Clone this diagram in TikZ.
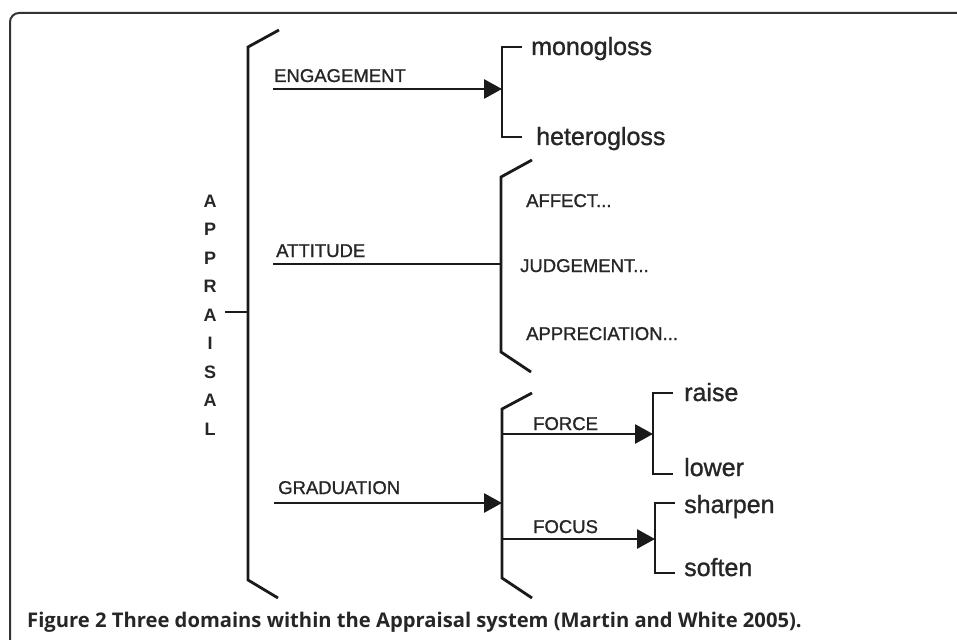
\documentclass[tikz,border=0pt]{standalone}
\usepackage{fontspec}
\setmainfont{Liberation Sans}
\newfontfamily\labfont[FakeBold=1.1]{Liberation Sans}
\newfontfamily\capfont{Open Sans}
\usetikzlibrary{arrows.meta}
\definecolor{ink}{HTML}{1A1A1A}
\definecolor{txt}{HTML}{262626}
\begin{document}
\begin{tikzpicture}[x=1pt,y=-1pt,
  ln/.style={line width=2.8pt,draw=ink,line join=miter},
  arr/.style={ln,-{Triangle[length=18pt,width=19pt]}},
  upl/.style={font=\labfont\fontsize{18.5}{20}\selectfont,text=txt,inner sep=0pt,anchor=base west},
  lowl/.style={font=\labfont\fontsize{25}{28}\selectfont,text=txt,inner sep=0pt,anchor=base west},
]
\useasboundingbox (0,0) rectangle (957,639);
\fill[white] (0,0) rectangle (957,639);
% frame
\draw[line width=2pt,draw=black!80,rounded corners=9pt] (10,641) -- (10,13) -- (959,13);
% main bracket
\coordinate (m0) at (279,30);
\coordinate (m1) at (248,47);
\coordinate (m2) at (248,580);
\coordinate (m3) at (278,598);
\draw[ln] (m0) -- (m1) -- (m2) -- (m3);
% APPRAISAL
\node[font=\bfseries\fontsize{18}{28.5}\selectfont,text=txt,align=center,inner sep=0pt] (appr) at (210,315) {A\\P\\P\\R\\A\\I\\S\\A\\L};
\coordinate (tk0) at (225,312);
\coordinate (tk1) at (248,312);
\draw[line width=1.4pt,draw=ink] (tk0) -- (tk1);
% ENGAGEMENT
\coordinate (e0) at (273,89);
\coordinate (e1) at (502,89);
\draw[arr] (e0) -- (e1);
\node[upl] (eng) at (274,82) {ENGAGEMENT};
\coordinate (eb0) at (522,47);
\coordinate (eb1) at (502,47);
\coordinate (eb2) at (502,137);
\coordinate (eb3) at (522,137);
\draw[ln] (eb0) -- (eb1) -- (eb2) -- (eb3);
\node[lowl] (mono) at (531,55) {monogloss};
\node[lowl] (hetero) at (536,145) {heterogloss};
% ATTITUDE
\coordinate (a0) at (273,264);
\coordinate (a1) at (501,264);
\draw[ln] (a0) -- (a1);
\node[upl] (att) at (276,257) {ATTITUDE};
\coordinate (ab0) at (532,160);
\coordinate (ab1) at (501,177);
\coordinate (ab2) at (501,352);
\coordinate (ab3) at (531,372);
\draw[ln] (ab0) -- (ab1) -- (ab2) -- (ab3);
\node[upl] (aff) at (526,207) {AFFECT...};
\node[upl] (jud) at (520,272) {JUDGEMENT...};
\node[upl] (app) at (526,340) {APPRECIATION...};
% GRADUATION
\coordinate (g0) at (274,503);
\coordinate (g1) at (502,503);
\draw[arr] (g0) -- (g1);
\node[upl] (grad) at (278,494) {GRADUATION};
\coordinate (gb0) at (532,393);
\coordinate (gb1) at (502,409);
\coordinate (gb2) at (502,578);
\coordinate (gb3) at (532,598);
\draw[ln] (gb0) -- (gb1) -- (gb2) -- (gb3);
% FORCE
\coordinate (f0) at (502,434);
\coordinate (f1) at (653,434);
\draw[arr] (f0) -- (f1);
\node[upl] (force) at (533,430) {FORCE};
\coordinate (fb0) at (673,393);
\coordinate (fb1) at (653,393);
\coordinate (fb2) at (653,474);
\coordinate (fb3) at (673,474);
\draw[ln] (fb0) -- (fb1) -- (fb2) -- (fb3);
\node[lowl] (raise) at (684,401) {raise};
\node[lowl] (lower) at (684,476) {lower};
% FOCUS
\coordinate (c0) at (502,539);
\coordinate (c1) at (655,539);
\draw[arr] (c0) -- (c1);
\node[upl] (focus) at (533,533) {FOCUS};
\coordinate (cb0) at (675,503);
\coordinate (cb1) at (655,503);
\coordinate (cb2) at (655,573);
\coordinate (cb3) at (675,573);
\draw[ln] (cb0) -- (cb1) -- (cb2) -- (cb3);
\node[lowl] (sharpen) at (684,513) {sharpen};
\node[lowl] (soften) at (684,576) {soften};
% caption
\node[font=\capfont\bfseries\fontsize{20.2}{22}\selectfont,text=txt,inner sep=0pt,anchor=base west] (caption) at (27,627) {Figure 2 Three domains within the Appraisal system (Martin and White 2005).};
\end{tikzpicture}
\end{document}
